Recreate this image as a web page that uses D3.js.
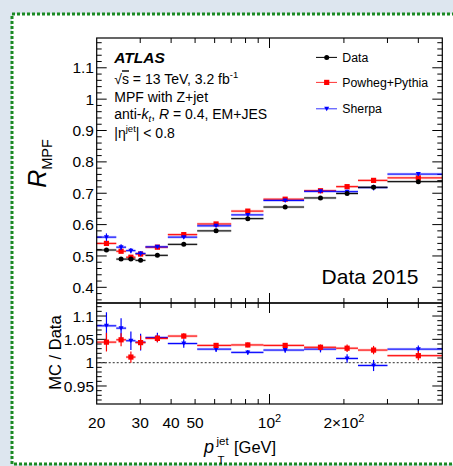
<!DOCTYPE html>
<html>
<head>
<meta charset="utf-8">
<script src="https://cdn.jsdelivr.net/npm/d3@7"></script>
<style>
html,body{margin:0;padding:0;background:#dde6ef;}
svg{display:block;font-family:"Liberation Sans",Arial,Helvetica,sans-serif;}
</style>
</head>
<body>
<svg id="chart" width="453" height="466"></svg>
<script>
// ---- data ----
const xEdges = [20, 24, 26.3, 28.7, 31.5, 38.8, 51, 70, 94.5, 138, 186, 228, 300, 500];
const xPoints = [21.9, 25.1, 27.5, 30.1, 35.2, 45.0, 60.8, 81.7, 115.7, 160.8, 206, 263.6, 400];
const dataVals = [0.519, 0.490, 0.490, 0.486, 0.502, 0.537, 0.580, 0.619, 0.656, 0.685, 0.699, 0.719, 0.737];
const dataErr = [0.004, 0.003, 0.003, 0.003, 0.002, 0.002, 0.002, 0.002, 0.002, 0.003, 0.004, 0.005, 0.006];
const powhegVals = [0.540, 0.515, 0.496, 0.506, 0.528, 0.568, 0.602, 0.643, 0.681, 0.708, 0.721, 0.741, 0.749];
const powhegErr = [0.006, 0.005, 0.005, 0.004, 0.003, 0.003, 0.003, 0.003, 0.003, 0.003, 0.004, 0.004, 0.006];
const sherpaVals = [0.560, 0.528, 0.517, 0.508, 0.529, 0.560, 0.596, 0.631, 0.677, 0.706, 0.705, 0.718, 0.761];
const sherpaErr = [0.012, 0.009, 0.008, 0.007, 0.004, 0.004, 0.003, 0.003, 0.003, 0.004, 0.006, 0.009, 0.006];
const powhegRatio = [1.044, 1.049, 1.012, 1.043, 1.052, 1.057, 1.037, 1.038, 1.037, 1.033, 1.031, 1.027, 1.015];
const powhegRatioErr = [0.020, 0.014, 0.012, 0.015, 0.008, 0.006, 0.005, 0.005, 0.005, 0.006, 0.008, 0.009, 0.010];
const sherpaRatio = [1.079, 1.074, 1.047, 1.044, 1.054, 1.041, 1.029, 1.022, 1.027, 1.029, 1.009, 0.994, 1.029];
const sherpaRatioErr = [0.029, 0.021, 0.020, 0.018, 0.010, 0.009, 0.006, 0.005, 0.006, 0.007, 0.009, 0.012, 0.008];
const seriesNames = ["Data", "Powheg+Pythia", "Sherpa"];
const mainYTicks = [0.4, 0.5, 0.6, 0.7, 0.8, 0.9, 1, 1.1];
const ratioYTicks = [0.95, 1, 1.05, 1.1];
const xLabelTicks = [20, 30, 40, 50, 100, 200];
const xMinorTicks = [30, 40, 50, 60, 70, 80, 90, 200, 300, 400];

// ---- layout ----
const svg = d3.select("#chart");
const L = 96.7, R = 442.3, T = 38, MB = 303, RB = 404;

svg.append("rect").attr("x", 12).attr("y", 14).attr("width", 460).attr("height", 450)
  .attr("fill", "#ffffff").attr("stroke", "#1b8a23").attr("stroke-width", 3)
  .attr("stroke-dasharray", "3,2");

const x = d3.scaleLog().domain([20, 500]).range([L, R]);
const yMain = d3.scaleLinear().domain([0.35, 1.195]).range([MB, T]);
const yRat = d3.scaleLinear().domain([0.9114, 1.1279]).range([RB, MB]);

const g = svg.append("g");

// ---- ticks ----
function xTicks(y0, dir) {
  xMinorTicks.forEach(v => {
    g.append("line").attr("x1", x(v)).attr("x2", x(v)).attr("y1", y0).attr("y2", y0 + dir * 5)
      .attr("stroke", "#000").attr("stroke-width", 1);
  });
  g.append("line").attr("x1", x(100)).attr("x2", x(100)).attr("y1", y0).attr("y2", y0 + dir * 10)
    .attr("stroke", "#000").attr("stroke-width", 1);
}
xTicks(T, 1); xTicks(MB, -1); xTicks(MB, 1); xTicks(RB, -1);

function yTicks(scale, lo, hi, step, majorStep) {
  const n = Math.round((hi - lo) / step);
  for (let i = 0; i <= n; i++) {
    const v = lo + i * step;
    if (v < scale.domain()[0] - 1e-9 || v > scale.domain()[1] + 1e-9) continue;
    const major = Math.abs(v / majorStep - Math.round(v / majorStep)) < 1e-6;
    const len = major ? 10 : 5;
    g.append("line").attr("x1", L).attr("x2", L + len).attr("y1", scale(v)).attr("y2", scale(v))
      .attr("stroke", "#000").attr("stroke-width", 1);
    g.append("line").attr("x1", R).attr("x2", R - len).attr("y1", scale(v)).attr("y2", scale(v))
      .attr("stroke", "#000").attr("stroke-width", 1);
  }
}
yTicks(yMain, 0.36, 1.18, 0.02, 0.1);
yTicks(yRat, 0.92, 1.12, 0.01, 0.05);

g.selectAll(".ym").data(mainYTicks).enter().append("text")
  .attr("x", 94).attr("y", d => yMain(d)).attr("dy", "0.36em")
  .attr("text-anchor", "end").attr("font-size", 15.5).text(d => d3.format("")(d));
g.selectAll(".yr").data(ratioYTicks).enter().append("text")
  .attr("x", 94).attr("y", d => yRat(d)).attr("dy", "0.36em")
  .attr("text-anchor", "end").attr("font-size", 15.5).text(d => d3.format("")(d));

xLabelTicks.forEach(v => {
  const t = g.append("text").attr("x", x(v)).attr("y", 427.7).attr("text-anchor", "middle").attr("font-size", 15.5);
  if (v === 100) { t.append("tspan").text("10"); t.append("tspan").attr("dy", -6).attr("font-size", 11).text("2"); }
  else if (v === 200) { t.append("tspan").text("2×10"); t.append("tspan").attr("dy", -6).attr("font-size", 11).text("2"); }
  else t.text(v);
});

g.append("line").attr("x1", L).attr("x2", R).attr("y1", yRat(1)).attr("y2", yRat(1))
  .attr("stroke", "#555").attr("stroke-width", 1.3).attr("stroke-dasharray", "2,2");

// ---- series drawing ----
function drawSeries(vals, errs, yS, color, band, marker) {
  vals.forEach((v, i) => {
    const x0 = x(xEdges[i]), x1 = x(xEdges[i + 1]), yc = yS(v);
    g.append("rect").attr("x", x0).attr("y", yc - 1.3).attr("width", x1 - x0).attr("height", 2.6)
      .attr("fill", band);
    g.append("line").attr("x1", x0).attr("x2", x1).attr("y1", yc).attr("y2", yc)
      .attr("stroke", color).attr("stroke-width", 1);
    const xp = x(xPoints[i]);
    g.append("line").attr("x1", xp).attr("x2", xp).attr("y1", yS(v - errs[i])).attr("y2", yS(v + errs[i]))
      .attr("stroke", color).attr("stroke-width", 1.2);
    drawMarker(xp, yc, color, marker);
  });
}
function drawMarker(cx, cy, color, marker) {
  if (marker === "circle") {
    g.append("circle").attr("cx", cx).attr("cy", cy).attr("r", 2.5).attr("fill", color);
  } else if (marker === "square") {
    g.append("rect").attr("x", cx - 2.6).attr("y", cy - 2.6).attr("width", 5.2).attr("height", 5.2).attr("fill", color);
  } else {
    g.append("path").attr("d", `M${cx - 2.5},${cy - 2}L${cx + 2.5},${cy - 2}L${cx},${cy + 2.5}Z`).attr("fill", color);
  }
}

drawSeries(powhegVals, powhegErr, yMain, "#ff0000", "rgba(255,0,0,0.28)", "square");
drawSeries(sherpaVals, sherpaErr, yMain, "#0000ff", "rgba(0,0,255,0.28)", "tri");
drawSeries(dataVals, dataErr, yMain, "#000000", "rgba(0,0,0,0.22)", "circle");
drawSeries(sherpaRatio, sherpaRatioErr, yRat, "#0000ff", "rgba(0,0,255,0.28)", "tri");
drawSeries(powhegRatio, powhegRatioErr, yRat, "#ff0000", "rgba(255,0,0,0.28)", "square");

g.append("rect").attr("x", L).attr("y", T).attr("width", R - L).attr("height", MB - T)
  .attr("fill", "none").attr("stroke", "#000").attr("stroke-width", 1.2);
g.append("rect").attr("x", L).attr("y", MB).attr("width", R - L).attr("height", RB - MB)
  .attr("fill", "none").attr("stroke", "#000").attr("stroke-width", 1.2);

// ---- legend ----
const legColors = ["#000000", "#ff0000", "#0000ff"];
const legMarkers = ["circle", "square", "tri"];
const legY = [57.4, 82.4, 108.8];
seriesNames.forEach((name, i) => {
  g.append("line").attr("x1", 316).attr("x2", 337).attr("y1", legY[i]).attr("y2", legY[i])
    .attr("stroke", legColors[i]).attr("stroke-width", 1).attr("opacity", i === 0 ? 1 : 0.8);
  drawMarker(326.7, legY[i], legColors[i], legMarkers[i]);
  g.append("text").attr("x", 342.3).attr("y", legY[i]).attr("dy", "0.36em")
    .attr("font-size", 12.3).text(name);
});

// ---- annotations ----
const ax = 114.3;
g.append("text").attr("x", ax).attr("y", 63.3).attr("font-size", 15.5).attr("font-weight", "bold")
  .attr("font-style", "italic").text("ATLAS");
const t1 = g.append("text").attr("x", ax).attr("y", 84.3).attr("font-size", 14);
t1.append("tspan").text("√");
t1.append("tspan").attr("text-decoration", "overline").text("s");
t1.append("tspan").text(" = 13 TeV, 3.2 fb");
t1.append("tspan").attr("dy", -6).attr("font-size", 9.5).text("-1");
g.append("text").attr("x", ax).attr("y", 101.7).attr("font-size", 14).text("MPF with Z+jet");
const t3 = g.append("text").attr("x", ax).attr("y", 119.3).attr("font-size", 14);
t3.append("tspan").text("anti-");
t3.append("tspan").attr("font-style", "italic").text("k");
t3.append("tspan").attr("font-style", "italic").attr("font-size", 9.5).attr("dy", 3).text("t");
t3.append("tspan").attr("dy", -3).text(", ");
t3.append("tspan").attr("font-style", "italic").text("R");
t3.append("tspan").text(" = 0.4, EM+JES");
const t4 = g.append("text").attr("x", ax).attr("y", 137.7).attr("font-size", 14);
t4.append("tspan").text("|η");
t4.append("tspan").attr("dy", -6).attr("font-size", 9.5).text("jet");
t4.append("tspan").attr("dy", 6).text("| < 0.8");

g.append("text").attr("x", 418.5).attr("y", 283.5).attr("text-anchor", "end")
  .attr("font-size", 21).text("Data 2015");

// ---- axis titles ----
const yt = g.append("text").attr("transform", "translate(46,163.5) rotate(-90)")
  .attr("text-anchor", "middle");
yt.append("tspan").attr("font-size", 25).attr("font-style", "italic").text("R");
yt.append("tspan").attr("font-size", 14.5).attr("dy", 6).text("MPF");

g.append("text").attr("transform", "translate(61,352.5) rotate(-90)")
  .attr("text-anchor", "middle").attr("font-size", 16.5).text("MC / Data");

g.append("text").attr("x", 204).attr("y", 453).attr("font-size", 18).attr("font-style", "italic").text("p");
g.append("text").attr("x", 216.5).attr("y", 445).attr("font-size", 11.5).text("jet");
g.append("text").attr("x", 217.5).attr("y", 464).attr("font-size", 11.5).text("T");
g.append("text").attr("x", 234).attr("y", 453).attr("font-size", 16.5).text("[GeV]");
</script>
</body>
</html>
